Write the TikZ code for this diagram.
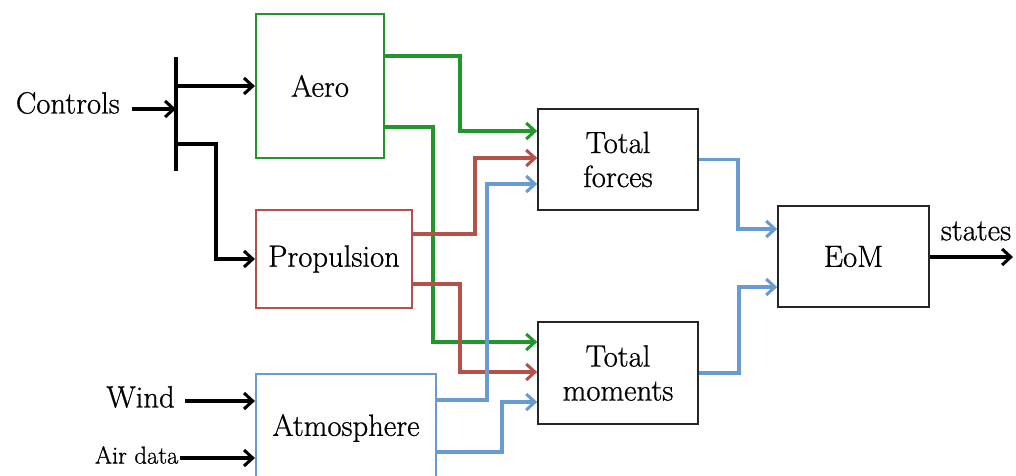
\documentclass[tikz,border=0pt]{standalone}
\usepackage{fontspec}
\newfontfamily\lblfont{Latin Modern Roman}[FakeBold=0.8]
\usetikzlibrary{arrows.meta,shadows}
\definecolor{aerogreen}{RGB}{34,150,44}
\definecolor{propred}{RGB}{180,82,74}
\definecolor{atmblue}{RGB}{104,155,210}
\begin{document}
\begin{tikzpicture}[x=0.75pt,y=-0.75pt,
  lbl/.style={font=\lblfont\fontsize{23}{25.5}\selectfont, align=center},
  blk/.style={draw, line width=1.6pt, fill=white, inner sep=0pt, lbl,
    drop shadow={shadow xshift=1pt, shadow yshift=-1pt, opacity=0.2}},
  plain/.style={draw=black!85, line width=1.3pt},
  sig/.style={line width=2.3pt, -{Straight Barb[length=6.5pt,width=12pt]}},
  wire/.style={line width=2.3pt}]
\useasboundingbox (0,0) rectangle (1016,475);

% blocks
\node[blk, draw=aerogreen, minimum width=96pt, minimum height=108pt] (aero) at (320,86) {Aero};
\node[blk, draw=propred, minimum width=117pt, minimum height=73.5pt] (prop) at (334,259) {Propulsion};
\node[blk, draw=atmblue, minimum width=135pt, minimum height=81pt] (atm) at (346,428) {Atmosphere};
\node[blk, plain, minimum width=120pt, minimum height=75.75pt] (forces) at (618,159.5) {Total\\forces};
\node[blk, plain, minimum width=120pt, minimum height=76.5pt] (moments) at (618,373) {Total\\moments};
\node[blk, plain, minimum width=113.25pt, minimum height=75.75pt] (eom) at (853.5,256.5) {EoM};

% external inputs and output
\node[lbl, anchor=east, inner xsep=9pt, inner ysep=0pt] (ctrl) at (132,103) {Controls};
\node[lbl, anchor=east, inner xsep=7.5pt, inner ysep=0pt] (wind) at (185,397) {Wind};
\node[font=\lblfont\fontsize{18.5}{20}\selectfont, anchor=east, inner xsep=1pt, inner ysep=0pt] (air) at (180,455) {Air data};
\coordinate (out) at (1013,257);
\node[lbl, inner sep=0pt] (states) at (976,231) {states};

% control distribution bar
\coordinate (bartop) at (176,57);
\coordinate (barbot) at (176,171);
\draw[wire] (bartop) -- (barbot);
\draw[sig] (ctrl.east |- 0,109) -- (bartop |- 0,109);
\draw[sig] (bartop |- aero.west) -- (aero.west);
\draw[sig] (bartop |- 0,144) -| (216,200) |- (prop.west);

% aerodynamic outputs
\draw[sig, aerogreen] (aero.east |- 0,56) -| (460,100) |- (forces.west |- 0,131);
\draw[sig, aerogreen] (aero.east |- 0,127) -| (433,200) |- (moments.west |- 0,342);

% propulsion outputs
\draw[sig, propred] (prop.east |- 0,234) -| (475,200) |- (forces.west |- 0,158);
\draw[sig, propred] (prop.east |- 0,284) -| (460,300) |- (moments.west |- 0,372);

% atmosphere outputs
\draw[sig, atmblue] (atm.east |- 0,400) -| (487,300) |- (forces.west |- 0,184);
\draw[sig, atmblue] (atm.east |- 0,452) -| (502,420) |- (moments.west |- 0,402);

% sums into the equations of motion
\draw[sig, atmblue] (forces.east) -| (738,200) |- (eom.west |- 0,229);
\draw[sig, atmblue] (moments.east) -| (739,300) |- (eom.west |- 0,287);
\draw[sig] (eom.east |- out) -- (out);

% environment inputs
\draw[sig] (wind.east |- 0,401) -- (atm.west |- 0,401);
\draw[sig] (air.east |- 0,458) -- (atm.west |- 0,458);
\end{tikzpicture}
\end{document}
